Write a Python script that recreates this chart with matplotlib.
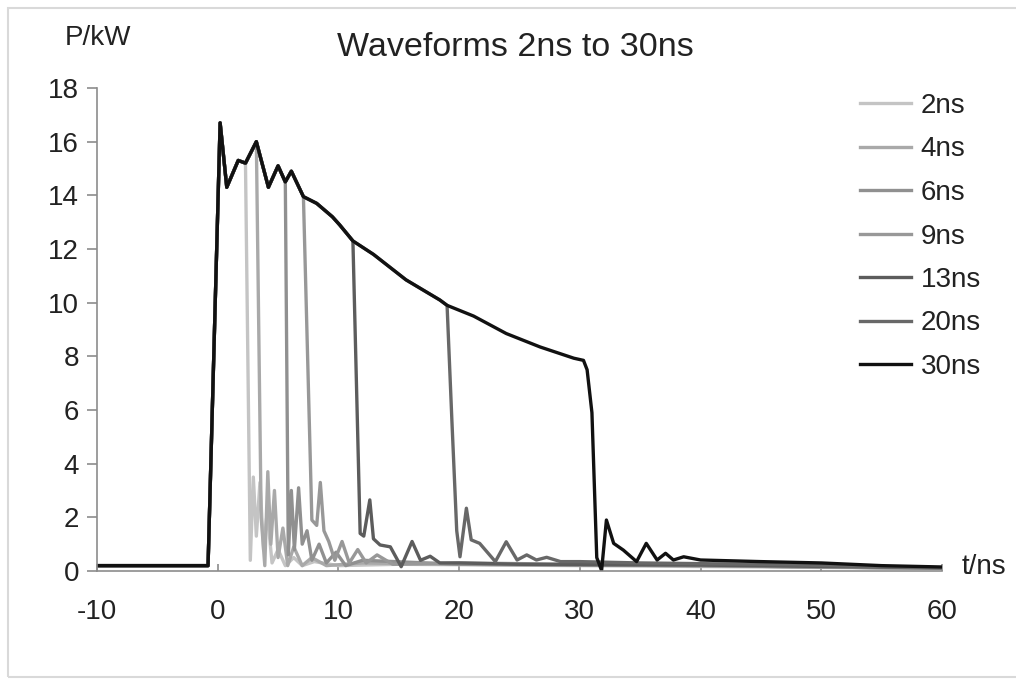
import numpy as np
import matplotlib
matplotlib.use("Agg")
import matplotlib.pyplot as plt
from matplotlib.patches import Rectangle

plt.rcParams['font.family'] = ['Liberation Sans', 'DejaVu Sans']
plt.rcParams['axes.unicode_minus'] = False

# common top of all pulses (t in ns, P in kW)
env_t = [-10, -5, -0.8, 0.2, 0.75, 1.7, 2.3, 3.2, 4.2, 5.0, 5.6, 6.1, 7.1, 8.2,
         9.5, 10.1, 11.2, 12.9, 15.6, 18.4, 19.0, 21.2, 23.9, 26.7, 29.5, 30.3]
env_p = [0.2, 0.2, 0.2, 16.7, 14.3, 15.3, 15.2, 16.0, 14.3, 15.1, 14.5, 14.9, 13.95, 13.7,
         13.2, 12.9, 12.3, 11.8, 10.85, 10.1, 9.9, 9.5, 8.85, 8.35, 7.93, 7.85]

labels = ["2ns", "4ns", "6ns", "9ns", "13ns", "20ns", "30ns"]
# last point of the common top that each pulse still follows
keep_until = [2.3, 3.2, 5.6, 7.1, 11.2, 19.0, 30.3]

# falling edge and ringing of each pulse
tail_2_t = [2.7, 2.95, 3.2, 3.5, 3.8, 4.1, 4.5, 5.0, 5.6, 6.3, 7.0, 8.0, 10, 15, 30, 45, 60]
tail_2_p = [0.4, 3.5, 1.3, 3.3, 0.8, 2.2, 0.3, 0.8, 0.2, 0.5, 0.2, 0.35, 0.2, 0.25, 0.2, 0.15, 0.1]
tail_4_t = [3.6, 3.9, 4.15, 4.4, 4.7, 5.0, 5.4, 5.8, 6.3, 7.0, 7.8, 9.0, 12, 20, 40, 60]
tail_4_p = [2.0, 0.2, 3.7, 1.0, 3.0, 0.5, 1.6, 0.2, 0.9, 0.2, 0.5, 0.2, 0.3, 0.25, 0.2, 0.1]
tail_6_t = [5.85, 6.1, 6.35, 6.7, 7.0, 7.4, 7.8, 8.4, 9.0, 9.8, 10.6, 12, 20, 40, 60]
tail_6_p = [0.6, 3.0, 0.8, 3.1, 1.0, 1.5, 0.4, 1.0, 0.3, 0.7, 0.2, 0.4, 0.25, 0.2, 0.1]
tail_9_t = [7.8, 8.2, 8.5, 8.8, 9.2, 9.7, 10.3, 10.9, 11.6, 12.3, 13.2, 14.5, 20, 40, 60]
tail_9_p = [1.9, 1.7, 3.3, 1.5, 1.1, 0.4, 1.1, 0.3, 0.8, 0.3, 0.6, 0.25, 0.3, 0.2, 0.1]
tail_13_t = [11.8, 12.1, 12.6, 12.9, 13.45, 14.3, 15.2, 16.1, 16.8, 17.6, 18.4, 20, 25, 40, 60]
tail_13_p = [1.4, 1.3, 2.65, 1.2, 0.97, 0.9, 0.16, 1.1, 0.4, 0.55, 0.3, 0.3, 0.25, 0.22, 0.12]
tail_20_t = [19.4, 19.8, 20.07, 20.6, 21.0, 21.7, 23.0, 23.9, 24.8, 25.6, 26.4, 27.25, 28.4, 30,
             35, 45, 60]
tail_20_p = [5.6, 1.5, 0.53, 2.34, 1.16, 1.03, 0.35, 1.09, 0.41, 0.6, 0.41, 0.51, 0.35, 0.35,
             0.3, 0.25, 0.12]
tail_30_t = [30.6, 31.0, 31.4, 31.8, 32.2, 32.8, 33.6, 34.7, 35.5, 36.4, 37.1, 37.75, 38.6, 40,
             45, 50, 55, 60]
tail_30_p = [7.5, 5.9, 0.5, 0.02, 1.9, 1.03, 0.78, 0.35, 1.03, 0.41, 0.66, 0.41, 0.53, 0.41,
             0.35, 0.3, 0.2, 0.15]

tails = [(tail_2_t, tail_2_p), (tail_4_t, tail_4_p), (tail_6_t, tail_6_p),
         (tail_9_t, tail_9_p), (tail_13_t, tail_13_p), (tail_20_t, tail_20_p),
         (tail_30_t, tail_30_p)]
colors = ['#c4c4c4', '#a9a9a9', '#909090', '#989898', '#5c5c5c', '#686868', '#111111']

fig = plt.figure(figsize=(10.16, 6.79), dpi=100)
fig.patches.append(Rectangle((8 / 1016, 2 / 679), 1.2, 669 / 679, transform=fig.transFigure,
                             fill=False, edgecolor='#d9d9d9', linewidth=1.5))
ax = fig.add_axes([97 / 1016, 1 - 571 / 679, 845 / 1016, 483 / 679])

et = np.array(env_t)
ep = np.array(env_p)
for lab, kt, (tt, tp), c in zip(labels, keep_until, tails, colors):
    m = et <= kt
    t = np.concatenate([et[m], tt])
    p = np.concatenate([ep[m], tp])
    ax.plot(t, p, color=c, lw=2.4, label=lab, solid_joinstyle='round')

ax.set_xlim(-10, 60)
ax.set_ylim(0, 18)
ax.set_xticks(np.arange(-10, 61, 10))
ax.set_yticks(np.arange(0, 19, 2))
for s in ['top', 'right']:
    ax.spines[s].set_visible(False)
for s in ['left', 'bottom']:
    ax.spines[s].set_color('#8c8c8c')
    ax.spines[s].set_linewidth(1.2)
ax.tick_params(axis='y', direction='out', length=7, width=1.2, color='#8c8c8c',
               labelsize=20, pad=6, labelcolor='#222222')
ax.tick_params(axis='x', direction='in', length=5, width=1.2, color='#8c8c8c',
               labelsize=20, pad=20, labelcolor='#222222')

fig.text(65 / 1016, 1 - 38 / 679, "P/kW", fontsize=20, va='center', ha='left', color='#222222')
fig.text(962 / 1016, 1 - 567 / 679, "t/ns", fontsize=20, va='center', ha='left', color='#222222')
fig.text(515 / 1016, 1 - 48 / 679, "Waveforms 2ns to 30ns", fontsize=24.5, va='center',
         ha='center', color='#222222')

ax.legend(loc='upper left', bbox_to_anchor=(860 / 1016, 1 - 93 / 679),
          bbox_transform=fig.transFigure, frameon=False, fontsize=20,
          handlelength=1.85, handletextpad=0.33, labelspacing=0.63,
          borderpad=0, borderaxespad=0, labelcolor='#222222')

fig.savefig("out.png", dpi=100)
